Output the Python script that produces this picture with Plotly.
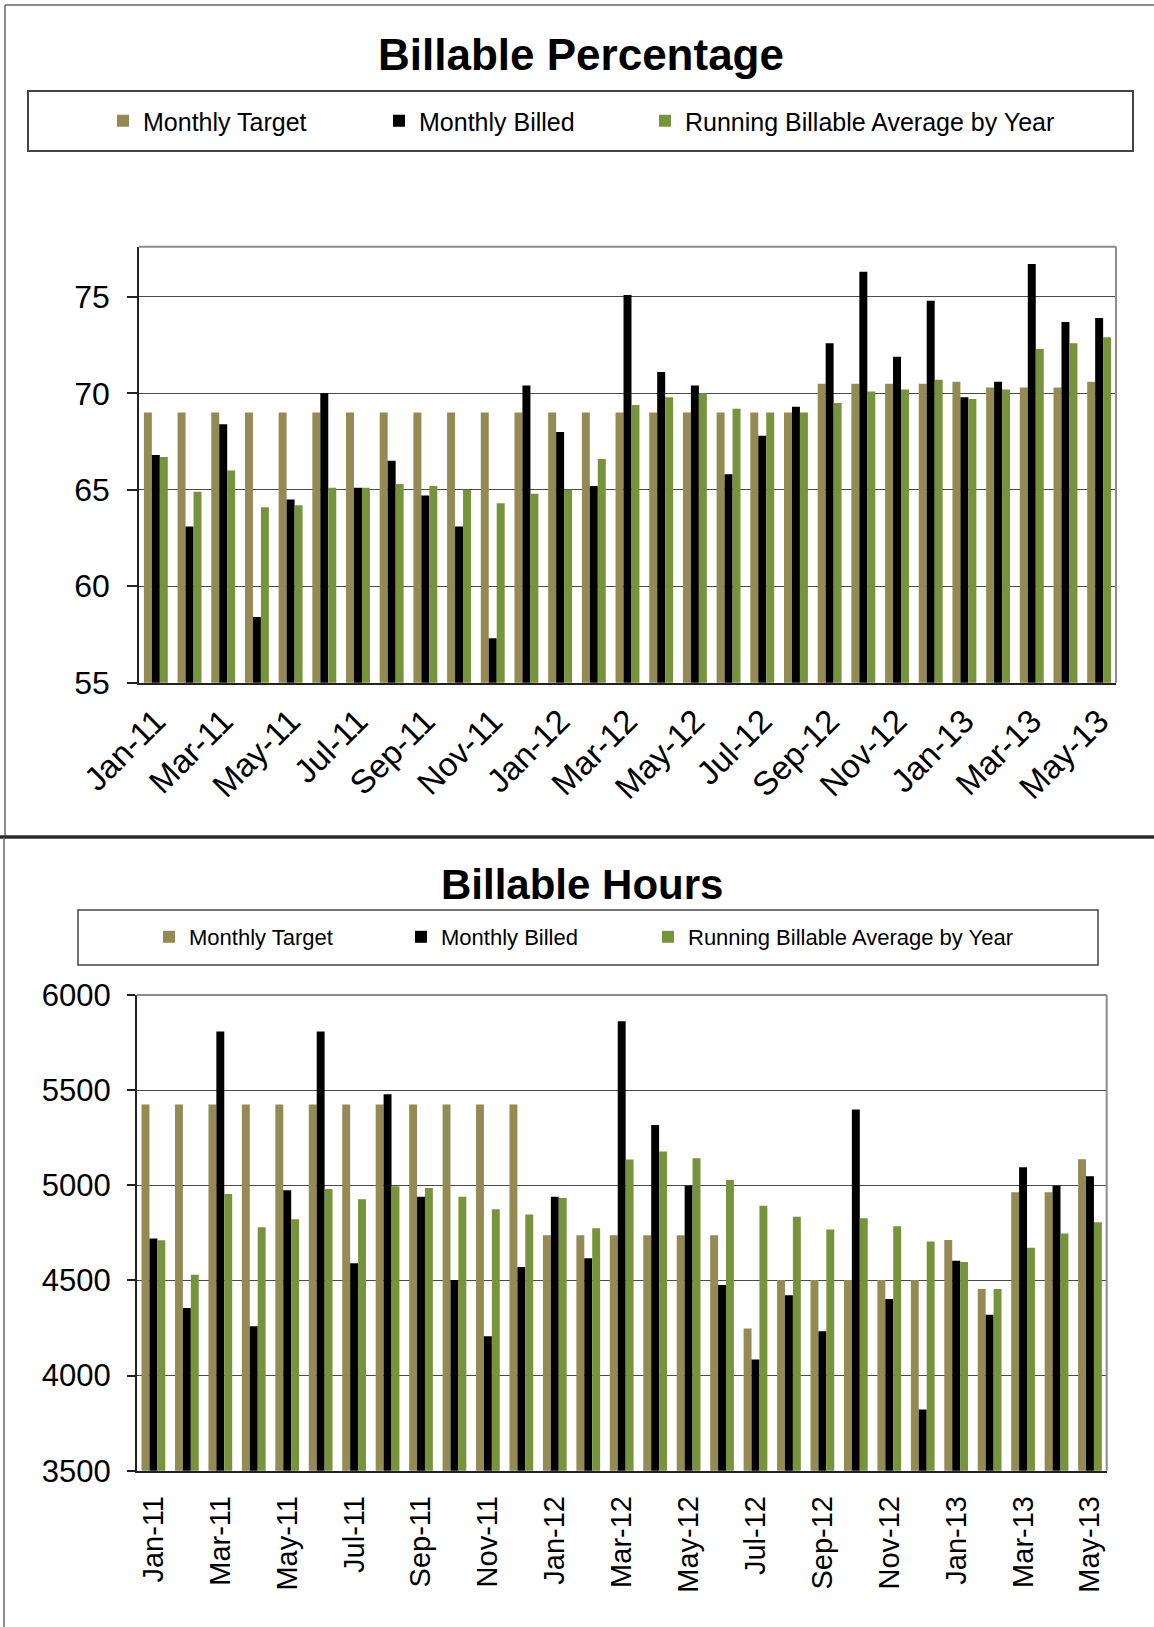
import plotly.graph_objects as go

W, H = 1154, 1627

months = ["Jan-11", "Feb-11", "Mar-11", "Apr-11", "May-11", "Jun-11", "Jul-11", "Aug-11",
          "Sep-11", "Oct-11", "Nov-11", "Dec-11", "Jan-12", "Feb-12", "Mar-12", "Apr-12",
          "May-12", "Jun-12", "Jul-12", "Aug-12", "Sep-12", "Oct-12", "Nov-12", "Dec-12",
          "Jan-13", "Feb-13", "Mar-13", "Apr-13", "May-13"]
tick_labels = ["Jan-11", "Mar-11", "May-11", "Jul-11", "Sep-11", "Nov-11", "Jan-12", "Mar-12",
               "May-12", "Jul-12", "Sep-12", "Nov-12", "Jan-13", "Mar-13", "May-13"]

# Billable percentage (%)
pct_target = [69.0, 69.0, 69.0, 69.0, 69.0, 69.0, 69.0, 69.0, 69.0, 69.0, 69.0, 69.0,
              69.0, 69.0, 69.0, 69.0, 69.0, 69.0, 69.0, 69.0, 70.5, 70.5, 70.5, 70.5,
              70.6, 70.3, 70.3, 70.3, 70.6]
pct_billed = [66.8, 63.1, 68.4, 58.4, 64.5, 70.0, 65.1, 66.5, 64.7, 63.1, 57.3, 70.4,
              68.0, 65.2, 75.1, 71.1, 70.4, 65.8, 67.8, 69.3, 72.6, 76.3, 71.9, 74.8,
              69.8, 70.6, 76.7, 73.7, 73.9]
pct_avg = [66.7, 64.9, 66.0, 64.1, 64.2, 65.1, 65.1, 65.3, 65.2, 65.0, 64.3, 64.8,
           65.0, 66.6, 69.4, 69.8, 70.0, 69.2, 69.0, 69.0, 69.5, 70.1, 70.2, 70.7,
           69.7, 70.2, 72.3, 72.6, 72.9]

# Billable hours
hrs_target = [5425, 5425, 5425, 5425, 5425, 5425, 5425, 5425, 5425, 5425, 5425, 5425,
              4737, 4737, 4737, 4737, 4737, 4737, 4247, 4502, 4502, 4502, 4502, 4502,
              4713, 4455, 4963, 4963, 5137]
hrs_billed = [4720, 4355, 5808, 4259, 4974, 5808, 4590, 5478, 4940, 4502, 4206, 4571,
              4940, 4616, 5862, 5317, 4998, 4476, 4084, 4422, 4233, 5398, 4403, 3821,
              4604, 4320, 5095, 4998, 5047]
hrs_avg = [4711, 4530, 4954, 4779, 4821, 4981, 4926, 4995, 4986, 4940, 4874, 4846,
           4933, 4774, 5135, 5177, 5142, 5028, 4893, 4834, 4767, 4827, 4785, 4704,
           4597, 4455, 4672, 4746, 4806]

series_names = ["Monthly Target", "Monthly Billed", "Running Billable Average by Year"]
series_colors = ["#948A54", "#000000", "#77933C"]

FONT = "Liberation Sans, Arial, sans-serif"


def px_x(v):
    return v / W


def px_y(v):
    return 1 - v / H


fig = go.Figure()

# each series gets its own legend box so the entries can be spread like the sheet layout
top_legend_ids = ["legend", "legend2", "legend3"]
bot_legend_ids = ["legend4", "legend5", "legend6"]

for name, color, vals, lg in zip(series_names, series_colors,
                                 [pct_target, pct_billed, pct_avg], top_legend_ids):
    fig.add_trace(go.Bar(x=months, y=vals, name=name, marker=dict(color=color, line_width=0),
                         xaxis="x", yaxis="y", legend=lg, offsetgroup=name))

for name, color, vals, lg in zip(series_names, series_colors,
                                 [hrs_target, hrs_billed, hrs_avg], bot_legend_ids):
    fig.add_trace(go.Bar(x=months, y=vals, name=name, marker=dict(color=color, line_width=0),
                         xaxis="x2", yaxis="y2", legend=lg, offsetgroup=name))

# plot-area pixel boxes
top_l, top_r, top_t, top_b = 139, 1116, 246.7, 682.7
bot_l, bot_r, bot_t, bot_b = 136.7, 1106.7, 995, 1470.7

grid = "#4a4a4a"
axis_common = dict(showline=True, linecolor="#222", linewidth=1.5, automargin=False)

fig.update_layout(
    width=W, height=H,
    margin=dict(l=0, r=0, t=0, b=0, autoexpand=False),
    paper_bgcolor="white", plot_bgcolor="white",
    font=dict(family=FONT, color="black"),
    barmode="group", bargroupgap=0, bargap=0.29,
    showlegend=True,
    xaxis=dict(domain=[px_x(top_l), px_x(top_r)], anchor="y", type="category",
               tickmode="array", tickvals=tick_labels, ticktext=tick_labels,
               tickangle=-45, tickfont=dict(size=33), ticks="", showgrid=False,
               ticklabelstandoff=4, **axis_common),
    yaxis=dict(domain=[px_y(top_b), px_y(top_t)], anchor="x", range=[55, 77.6],
               tickvals=[55, 60, 65, 70, 75], tickfont=dict(size=32),
               ticks="outside", ticklen=10, tickcolor="#222", tickwidth=1.5,
               showgrid=True, gridcolor=grid, gridwidth=1.3, zeroline=False,
               ticklabelstandoff=11, **axis_common),
    xaxis2=dict(domain=[px_x(bot_l), px_x(bot_r)], anchor="y2", type="category",
                tickmode="array", tickvals=tick_labels, ticktext=tick_labels,
                tickangle=-90, tickfont=dict(size=29), ticks="", showgrid=False,
                ticklabelstandoff=12, **axis_common),
    yaxis2=dict(domain=[px_y(bot_b), px_y(bot_t)], anchor="x2", range=[3500, 6000],
                tickvals=[3500, 4000, 4500, 5000, 5500, 6000], tickfont=dict(size=31),
                ticks="outside", ticklen=8, tickcolor="#222", tickwidth=1.5,
                showgrid=True, gridcolor=grid, gridwidth=1.3, zeroline=False,
                ticklabelstandoff=10, **axis_common),
)

# legend entry positions (symbol centre x, row centre y) in pixels
top_legend_x = [127, 403, 669]
bot_legend_x = [173, 425, 672]
for lg, sx in zip(top_legend_ids, top_legend_x):
    fig.update_layout({lg: dict(orientation="h", xref="container", yref="container",
                                x=px_x(sx - 24), y=px_y(121), xanchor="left", yanchor="middle",
                                font=dict(size=25), bgcolor="rgba(0,0,0,0)", borderwidth=0,
                                itemclick=False, itemdoubleclick=False)})
for lg, sx in zip(bot_legend_ids, bot_legend_x):
    fig.update_layout({lg: dict(orientation="h", xref="container", yref="container",
                                x=px_x(sx - 24), y=px_y(937), xanchor="left", yanchor="middle",
                                font=dict(size=22), bgcolor="rgba(0,0,0,0)", borderwidth=0,
                                itemclick=False, itemdoubleclick=False)})

shapes = []


def line(x0, y0, x1, y1, color, width):
    shapes.append(dict(type="line", xref="paper", yref="paper",
                       x0=px_x(x0), y0=px_y(y0), x1=px_x(x1), y1=px_y(y1),
                       line=dict(color=color, width=width)))


# panel frames
line(5, 5, W, 5, "#666", 1.5)
line(5, 5, 5, 836, "#666", 1.5)
line(0, 837, W, 837, "#2a2a2a", 3.5)
line(4, 837, 4, H, "#666", 1.5)

# legend boxes
shapes.append(dict(type="rect", xref="paper", yref="paper",
                   x0=px_x(28), y0=px_y(151), x1=px_x(1133), y1=px_y(91),
                   line=dict(color="#444", width=2)))
shapes.append(dict(type="rect", xref="paper", yref="paper",
                   x0=px_x(78), y0=px_y(965), x1=px_x(1098), y1=px_y(910),
                   line=dict(color="#444", width=1.5)))

# plot-area outline on the top and right sides
line(top_l, top_t, top_r, top_t, "#8c8c8c", 2)
line(top_r, top_t, top_r, top_b, "#8c8c8c", 2)
line(bot_l, bot_t, bot_r, bot_t, "#8c8c8c", 2)
line(bot_r, bot_t, bot_r, bot_b, "#8c8c8c", 2)

fig.update_layout(shapes=shapes)

fig.add_annotation(text="<b>Billable Percentage</b>", xref="paper", yref="paper",
                   x=px_x(581), y=px_y(54), showarrow=False, font=dict(size=44, family=FONT),
                   xanchor="center", yanchor="middle")
fig.add_annotation(text="<b>Billable Hours</b>", xref="paper", yref="paper",
                   x=px_x(582), y=px_y(884), showarrow=False, font=dict(size=42, family=FONT),
                   xanchor="center", yanchor="middle")

fig.write_html("out.html")
